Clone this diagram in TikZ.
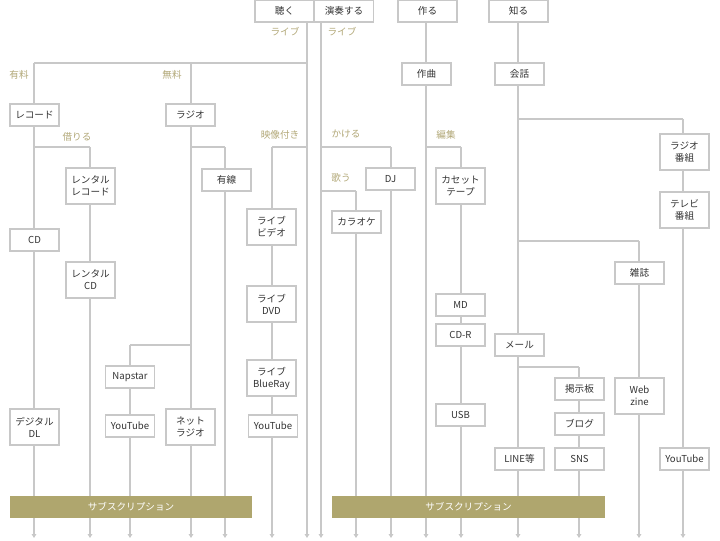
\documentclass[tikz,border=0pt]{standalone}
\usepackage{fontspec}
\setmainfont{Noto Sans CJK JP}
\usetikzlibrary{arrows.meta}
\definecolor{ln}{HTML}{C8C8C8}
\definecolor{lb}{HTML}{B2A878}
\definecolor{bar}{HTML}{AFA66E}
\definecolor{tx}{HTML}{333333}
\tikzset{
 ln/.style={draw=ln,line width=0.8pt},
 arr/.style={ln,-{Triangle[width=3.5pt,length=3pt]}},
 bx/.style={draw=ln,fill=white,line width=0.8pt,text=tx,font=\fontsize{7.2}{9}\selectfont,inner sep=0pt,minimum width=36.75pt,minimum height=16.5pt,align=center},
 bx2/.style={bx,minimum height=27pt},
 topbx/.style={bx,minimum width=44.25pt},
 lab/.style={text=lb,font=\fontsize{7.2}{9}\selectfont,inner sep=0pt},
 barst/.style={fill=bar,text=white,font=\fontsize{7.2}{9}\selectfont,inner sep=0pt,minimum height=16.5pt}
}
\begin{document}
\begin{tikzpicture}[x=0.75pt,y=-0.75pt]
\useasboundingbox (0,0) rectangle (720,540);
% lines
\draw[arr] (307,22) -- (307,538);
\draw[ln] (307,63) -- (34,63);
\draw[ln] (307,147) -- (272,147);
\draw[arr] (34,63) -- (34,538);
\draw[arr] (191,63) -- (191,538);
\draw[ln] (34,147) -- (90,147);
\draw[arr] (90,147) -- (90,538);
\draw[ln] (191,147) -- (225,147);
\draw[arr] (225,147) -- (225,538);
\draw[arr] (272,147) -- (272,538);
\draw[ln] (191,345) -- (130,345);
\draw[arr] (130,345) -- (130,538);
\draw[arr] (321,22) -- (321,538);
\draw[ln] (321,147) -- (391,147);
\draw[arr] (391,147) -- (391,538);
\draw[ln] (321,191) -- (356,191);
\draw[arr] (356,191) -- (356,538);
\draw[arr] (426,22) -- (426,538);
\draw[ln] (426,147) -- (461,147);
\draw[arr] (461,147) -- (461,538);
\draw[arr] (518,22) -- (518,538);
\draw[ln] (518,119) -- (683,119);
\draw[arr] (683,119) -- (683,538);
\draw[ln] (518,241) -- (639,241);
\draw[arr] (639,241) -- (639,538);
\draw[ln] (518,367) -- (579,367);
\draw[arr] (579,367) -- (579,538);
% labels
\node[lab] (l1) at (285,32) {ライブ};
\node[lab] (l2) at (342,32) {ライブ};
\node[lab] (l3) at (19,75) {有料};
\node[lab] (l4) at (172,75) {無料};
\node[lab] (l5) at (77,137) {借りる};
\node[lab] (l6) at (280,135) {映像付き};
\node[lab] (l7) at (346,134) {かける};
\node[lab] (l8) at (341,178) {歌う};
\node[lab] (l9) at (446,135) {編集};
% top
\node[topbx] (kiku) at (284.5,11) {聴く};
\node[topbx] (ensou) at (344,11) {演奏する};
\node[topbx] (tsukuru) at (427.5,11) {作る};
\node[topbx] (shiru) at (518.5,11) {知る};
% boxes
\node[bx] (rec) at (34.5,115) {レコード};
\node[bx] (radio) at (190.5,115) {ラジオ};
\node[bx2] (rrec) at (90.5,186) {レンタル\\レコード};
\node[bx] (yusen) at (226.5,180) {有線};
\node[bx2] (lvid) at (271.5,227) {ライブ\\ビデオ};
\node[bx] (kara) at (356.5,222) {カラオケ};
\node[bx] (dj) at (390.5,179) {DJ};
\node[bx] (sakkyoku) at (426.5,74) {作曲};
\node[bx] (kaiwa) at (519.5,74) {会話};
\node[bx2] (cas) at (460.5,186) {カセット\\テープ};
\node[bx2] (rban) at (684.5,152) {ラジオ\\番組};
\node[bx2] (tban) at (684.5,210) {テレビ\\番組};
\node[bx] (zasshi) at (639.5,273) {雑誌};
\node[bx] (cd) at (34.5,240) {CD};
\node[bx2] (rcd) at (90.5,280) {レンタル\\CD};
\node[bx2] (ldvd) at (271.5,304) {ライブ\\DVD};
\node[bx] (md) at (460.5,305) {MD};
\node[bx] (cdr) at (460.5,335) {CD-R};
\node[bx] (nap) at (130,377) {Napstar};
\node[bx] (mail) at (519.5,345) {メール};
\node[bx2] (lbr) at (271.5,378) {ライブ\\BlueRay};
\node[bx] (keiji) at (579.5,389) {掲示板};
\node[bx2] (web) at (639.5,396) {Web\\zine};
\node[bx] (blog) at (579.5,424) {ブログ};
\node[bx2] (ddl) at (34.5,427) {デジタル\\DL};
\node[bx] (yt1) at (130,426) {YouTube};
\node[bx2] (nradio) at (190.5,427) {ネット\\ラジオ};
\node[bx] (yt2) at (273,426) {YouTube};
\node[bx] (usb) at (460.5,415) {USB};
\node[bx] (line) at (519.5,459) {LINE等};
\node[bx] (sns) at (579.5,459) {SNS};
\node[bx] (yt3) at (684.5,459) {YouTube};
% subscription bars
\node[barst,minimum width=181.5pt] (sub1) at (131,507) {サブスクリプション};
\node[barst,minimum width=204.75pt] (sub2) at (468.5,507) {サブスクリプション};
\end{tikzpicture}
\end{document}
